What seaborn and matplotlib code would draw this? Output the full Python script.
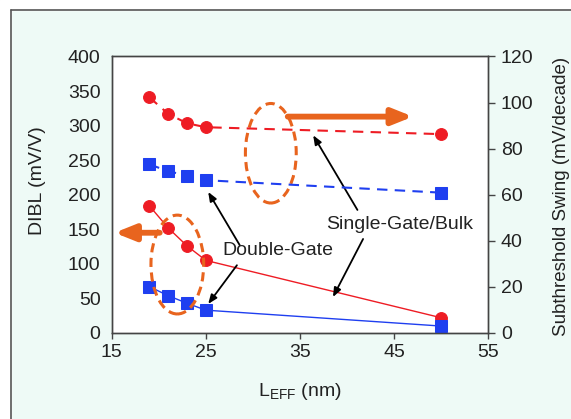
import matplotlib
matplotlib.use("Agg")
import matplotlib.pyplot as plt
import seaborn as sns
import pandas as pd
from matplotlib.patches import Ellipse, Rectangle
from matplotlib.lines import Line2D

# ---- data ----
l_eff = [19, 21, 23, 25, 50]
dibl_single = [184, 152, 126, 105, 22]        # mV/V (left axis)
dibl_double = [67, 54, 43, 33, 10]            # mV/V (left axis)
ss_single = [102.3, 95.1, 91.0, 89.3, 86.3]   # mV/decade (right axis)
ss_double = [73.2, 70.2, 68.3, 66.3, 60.9]    # mV/decade (right axis)

x_ticks = [15, 25, 35, 45, 55]
left_ticks = [0, 50, 100, 150, 200, 250, 300, 350, 400]
right_ticks = [0, 20, 40, 60, 80, 100, 120]

RED = "#ee1c24"
BLUE = "#1f3ff0"
ORANGE = "#e8641e"
BG = "#eefaf6"

sns.set_theme(style="white")
plt.rcParams["font.family"] = ["Liberation Sans", "DejaVu Sans"]
FS = 14

fig = plt.figure(figsize=(5.71, 4.19), dpi=100)
fig.patch.set_facecolor(BG)
ax = fig.add_axes([0.1956, 0.2053, 0.6596, 0.6599])
ax.set_facecolor("white")
ax2 = ax.twinx()

df = pd.DataFrame({"L": l_eff, "dsg": dibl_single, "ddg": dibl_double,
                   "ssg": ss_single, "sdg": ss_double})

# solid DIBL lines (left axis)
sns.lineplot(data=df, x="L", y="dsg", ax=ax, color=RED, lw=1.0,
             marker="o", markersize=8.5, markeredgecolor=RED, zorder=3)
sns.lineplot(data=df, x="L", y="ddg", ax=ax, color=BLUE, lw=1.0,
             marker="s", markersize=8, markeredgecolor=BLUE, zorder=3)
# dashed SS lines (right axis)
sns.lineplot(data=df, x="L", y="ssg", ax=ax2, color=RED, lw=1.5,
             marker="o", markersize=8.5, markeredgecolor=RED, zorder=3)
sns.lineplot(data=df, x="L", y="sdg", ax=ax2, color=BLUE, lw=1.5,
             marker="s", markersize=8, markeredgecolor=BLUE, zorder=3)
for ln in ax2.get_lines():
    ln.set_dashes((5, 3.5))

ax.set_xlim(15, 55)
ax.set_ylim(0, 400)
ax2.set_ylim(0, 120)
ax.set_xticks(x_ticks)
ax.set_yticks(left_ticks)
ax2.set_yticks(right_ticks)
ax.tick_params(axis="x", direction="out", length=4, width=1, color="#444444",
               labelsize=FS, pad=4, bottom=True)
ax.tick_params(axis="y", length=0, labelsize=FS, pad=8)
ax2.tick_params(axis="y", direction="out", length=5, width=1, color="#444444",
                labelsize=FS, pad=4, right=True)
for a in (ax, ax2):
    for s in a.spines.values():
        s.set_color("#444444")
        s.set_linewidth(1.0)
        s.set_visible(True)
    for lab in a.get_xticklabels() + a.get_yticklabels():
        lab.set_color("#222222")

ax.set_xlabel("L$_{\\mathregular{EFF}}$ (nm)", fontsize=FS, color="#222222")
ax.xaxis.set_label_coords(0.5, -0.172)
ax.set_ylabel("DIBL (mV/V)", fontsize=FS, color="#222222")
ax.yaxis.set_label_coords(-0.174, 0.55)
ax2.set_ylabel("Subthreshold Swing (mV/decade)", fontsize=13.5, color="#222222")
ax2.yaxis.set_label_coords(1.172, 0.495)
ax2.yaxis.label.set_rotation(90)

# ---- annotations (left-axis coordinates) ----
ax.add_patch(Ellipse((31.9, 260), 5.4, 144, fill=False, edgecolor=ORANGE,
                     lw=2.2, linestyle=(0, (3, 1.8)), zorder=4))
ax.add_patch(Ellipse((21.97, 99), 5.6, 143, fill=False, edgecolor=ORANGE,
                     lw=2.2, linestyle=(0, (3, 1.8)), zorder=4))

ax.annotate("", xy=(47.0, 313), xytext=(33.7, 313),
            arrowprops=dict(arrowstyle="-|>,head_width=0.4,head_length=1.0",
                            lw=4.2, color=ORANGE, shrinkA=0, shrinkB=0),
            zorder=5)
ax.annotate("", xy=(15.3, 145), xytext=(20.1, 145),
            arrowprops=dict(arrowstyle="-|>,head_width=0.4,head_length=1.0",
                            lw=4.2, color=ORANGE, shrinkA=0, shrinkB=0),
            annotation_clip=False, zorder=5)

ax.text(32.6, 120, "Double-Gate", fontsize=FS, ha="center", va="center",
        color="#222222", zorder=6)
ax.text(45.6, 157, "Single-Gate/Bulk", fontsize=FS, ha="center", va="center",
        color="#222222", zorder=6)

arrow_kw = dict(arrowstyle="-|>,head_width=0.18,head_length=0.45", lw=1.3,
                color="black", shrinkA=0, shrinkB=0)
ax.annotate("", xy=(25.25, 204), xytext=(28.6, 127), arrowprops=arrow_kw)
ax.annotate("", xy=(25.25, 42), xytext=(28.3, 98), arrowprops=arrow_kw)
ax.annotate("", xy=(36.4, 286), xytext=(41.1, 178), arrowprops=arrow_kw)
ax.annotate("", xy=(38.5, 52), xytext=(41.7, 136), arrowprops=arrow_kw)

# figure border (left and top edges of the framed picture)
fig.add_artist(Line2D([11 / 571, 11 / 571], [0, 1 - 10 / 419],
                      transform=fig.transFigure, color="#555555", lw=1.2))
fig.add_artist(Line2D([11 / 571, 1], [1 - 10 / 419, 1 - 10 / 419],
                      transform=fig.transFigure, color="#555555", lw=1.2))
fig.add_artist(Rectangle((0, 0), 11 / 571, 1, transform=fig.transFigure,
                         color="white", zorder=-1))
fig.add_artist(Rectangle((0, 1 - 10 / 419), 1, 10 / 419,
                         transform=fig.transFigure, color="white", zorder=-1))

fig.savefig("out.png", dpi=100, facecolor=BG)
